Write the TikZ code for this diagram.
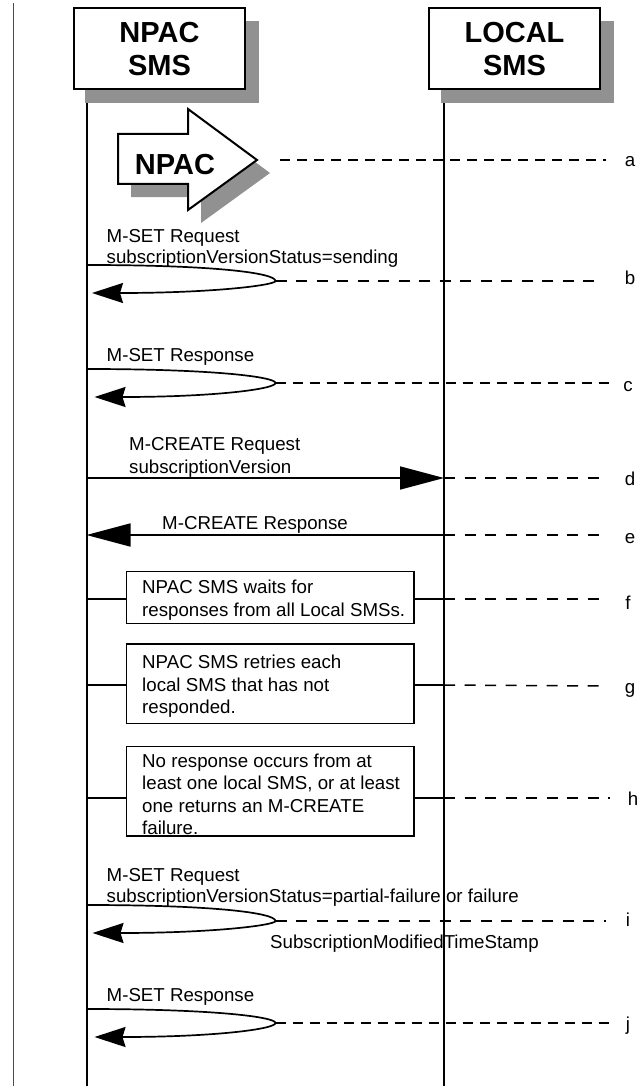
\documentclass[tikz,border=0pt]{standalone}
\usepackage{fontspec}
\setmainfont{Liberation Sans}
\usetikzlibrary{arrows.meta}
\tikzset{
  msgline/.style={line width=1.7pt},
  bigtip/.style={line width=1.7pt,-{Triangle[length=44pt,width=23pt]}},
  looptip/.style={line width=1.7pt,-{Stealth[length=31pt,width=20pt,inset=3pt]}},
  dashthick/.style={line width=2pt,dash pattern=on 10pt off 7pt},
  dashfine/.style={line width=1.5pt,dash pattern=on 11pt off 9.5pt},
  lifeline/.style={line width=2pt},
  entity/.style={draw,line width=2pt,fill=white,minimum width=171pt,minimum height=81pt,align=center,inner sep=0pt,font=\fontsize{29}{33.5}\selectfont\bfseries},
  shade/.style={fill=black!43},
  notebox/.style={draw,line width=1.7pt,fill=white,minimum width=287.5pt,anchor=north west,inner sep=0pt},
  msgtext/.style={anchor=north west,inner sep=0pt,align=left,font=\fontsize{18.7}{22.5}\selectfont},
  tightext/.style={msgtext,font=\fontsize{18.7}{20.5}\selectfont},
  steplabel/.style={anchor=base,inner sep=0pt,font=\fontsize{18.7}{22}\selectfont},
}
\begin{document}
\begin{tikzpicture}[x=1pt,y=-1pt]
\useasboundingbox (0,0) rectangle (638,1086);
\def\xnpac{86.5} \def\xlocal{444}

\coordinate (margintop) at (13,3);
\coordinate (marginend) at (13,1086);
\draw[line width=1pt,black!70] (margintop)--(marginend);

% entity boxes and lifelines
\fill[shade] (85,21) rectangle (259,103);
\fill[shade] (441,21) rectangle (614,103);
\node[entity] (npac) at (159.5,49) {NPAC\\SMS};
\node[entity] (local) at (514.5,49) {LOCAL\\SMS};

\coordinate (npactop) at (\xnpac,103);
\coordinate (npacend) at (\xnpac,1086);
\coordinate (localtop) at (\xlocal,103);
\coordinate (localend) at (\xlocal,1086);
\draw[lifeline] (npactop)--(npacend);
\draw[lifeline] (localtop)--(localend);

% big arrow
\def\arrowshape{(118,134) -- (188,134) -- (188,109) -- (257,160) -- (188,210) -- (188,184) -- (118,184) -- cycle}
\fill[shade,shift={(13,13)}] \arrowshape;
\draw[line width=2pt,fill=white] \arrowshape;
\node[inner sep=0pt,font=\fontsize{29}{33}\selectfont\bfseries] (arrowtext) at (175,165) {NPAC};

% self messages
\foreach \name/\ya/\yb/\yc/\xc in {b/265/281/293/92,c/369/383/397/94.5,i/905/921/933/92.5,j/1009/1023/1037/94.5} {
  \coordinate (\name start) at (\xnpac,\ya);
  \coordinate (\name turn) at (275.5,\yb);
  \coordinate (\name tip) at (\xc,\yc);
  \draw[msgline] (\name start) .. controls (215,\ya) and (275.5,\ya+8) .. (\name turn);
  \draw[looptip] (\name turn) .. controls (275.5,\yc-8) and (215,\yc) .. (\name tip);
}

% messages between lifelines
\coordinate (dstart) at (\xnpac,478);
\coordinate (dend) at (\xlocal,478);
\draw[bigtip] (dstart)--(dend);
\coordinate (estart) at (\xlocal,535);
\coordinate (eend) at (\xnpac,535);
\draw[bigtip] (estart)--(eend);

% note boxes
\node[notebox,minimum height=52pt] (fbox) at (125.7,570.7) {};
\node[notebox,minimum height=79.5pt] (gbox) at (125.7,643.2) {};
\node[notebox,minimum height=89.5pt] (hbox) at (125.7,745.7) {};
\foreach \name/\yy in {f/599,g/685,h/798} {
  \coordinate (\name mid) at (\xnpac,\yy);
  \coordinate (\name right) at (\xlocal,\yy);
  \draw[msgline] (\name mid)--(\name mid -| \name box.west);
  \draw[msgline] (\name right -| \name box.east)--(\name right);
}

% texts
\node[tightext] (btext) at (106.5,229.5) {M-SET Request\\subscriptionVersionStatus=sending};
\node[msgtext] (ctext) at (106.5,348.5) {M-SET Response};
\node[msgtext] (dtext) at (129,437.5) {M-CREATE Request\\subscriptionVersion};
\node[msgtext] (etext) at (162,516.5) {M-CREATE Response};
\node[msgtext] (ftext) at (142,580) {NPAC SMS waits for\\responses from all Local SMSs.};
\node[msgtext] (gtext) at (142,655) {NPAC SMS retries each\\local SMS that has not\\responded.};
\node[msgtext] (htext) at (142,753.5) {No response occurs from at\\least one local SMS, or at least\\one returns an M-CREATE\\failure.};
\node[tightext] (itext) at (106.5,868.5) {M-SET Request\\subscriptionVersionStatus=partial-failure or failure};
\node[msgtext] (stamp) at (270,934.5) {SubscriptionModifiedTimeStamp};
\node[msgtext] (jtext) at (106.5,988.5) {M-SET Response};

% dashed lines and step labels
\coordinate (astart) at (280,160);
\coordinate (aend) at (606,160);
\coordinate (bend) at (603,281);
\coordinate (cend) at (610,383);
\coordinate (dlast) at (605,478);
\coordinate (elast) at (605,535);
\coordinate (fend) at (601,599);
\coordinate (gend) at (607,686);
\coordinate (hend) at (610,798);
\coordinate (iend) at (606,921);
\coordinate (jend) at (612,1023);
\draw[dashthick] (astart)--(aend);
\draw[dashfine] (bturn)--(bend);
\draw[dashthick] (cturn)--(cend);
\draw[dashfine] (dend)--(dlast);
\draw[dashfine] (estart)--(elast);
\draw[dashfine] (fright)--(fend);
\draw[dashfine] (gright)--(gend);
\draw[dashfine] (hright)--(hend);
\draw[dashfine] (iturn)--(iend);
\draw[dashthick] (jturn)--(jend);

\foreach \name/\xx/\yy in {a/630/167,b/630/284,c/628/391,d/630/485,e/630/543,f/628/609,g/630/693,h/633/805,i/628/926,j/628/1030}
  \node[steplabel] (\name) at (\xx,\yy) {\name};
\end{tikzpicture}
\end{document}
